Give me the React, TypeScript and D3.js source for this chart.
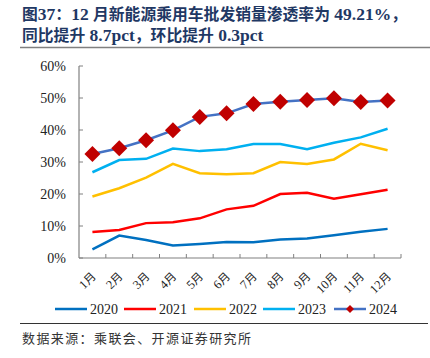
import React from "react";
import * as d3 from "d3";

const months = ["1月","2月","3月","4月","5月","6月","7月","8月","9月","10月","11月","12月"];
const s2020 = [2.7,7.0,5.6,3.9,4.4,5.0,4.9,5.8,6.1,7.1,8.2,9.1];
const s2021 = [8.1,8.75,10.9,11.2,12.4,15.2,16.3,20.0,20.4,18.5,19.9,21.3];
const s2022 = [19.2,21.8,25.1,29.4,26.5,26.2,26.5,30.0,29.4,30.8,35.7,33.7];
const s2023 = [26.8,30.6,31.0,34.2,33.4,34.0,35.6,35.6,34.0,36.0,37.7,40.4];
const s2024 = [32.5,34.3,36.8,39.9,44.1,45.2,48.1,48.8,49.4,49.9,48.75,49.21];
const yTicks = [0,10,20,30,40,50,60];
const seriesNames = ["2020","2021","2022","2023","2024"];
const seriesColors = ["#0070C0","#FF0000","#FFC000","#00B0F0","#4472C4"];

export default function App() {
  const W = 430, H = 358;
  const left = 79, right = 401, top = 66, bottom = 258;
  const x = d3.scaleBand<string>().domain(months).range([left, right]);
  const y = d3.scaleLinear().domain([0, 60]).range([bottom, top]);
  const line = d3.line<number>()
    .x((_, i) => (x(months[i]) as number) + x.bandwidth() / 2)
    .y(d => y(d));
  const all = [s2020, s2021, s2022, s2023, s2024];
  const serif = "'Liberation Serif', 'Times New Roman', serif";
  const cjk = "'Noto Sans CJK SC', sans-serif";
  const legendX = [55, 124, 194, 263, 334];
  const diamond = (cx: number, cy: number, r: number) =>
    `M${cx},${cy - r}L${cx + r},${cy}L${cx},${cy + r}L${cx - r},${cy}Z`;
  const S = (t: string) => <tspan fontFamily={serif} fontSize={17.5}>{t}</tspan>;
  return (
    <svg width={W} height={H} style={{ position: "absolute", left: 0, top: 0, background: "#fff" }}>
      <text x={22} y={20} fontFamily={cjk} fontWeight="bold" fontSize={15.8} fill="#1F3864">
        图{S("37")}：{S("12 ")}月新能源乘用车批发销量渗透率为{S(" 49.21%")}，
      </text>
      <text x={22} y={41} fontFamily={cjk} fontWeight="bold" fontSize={15.8} fill="#1F3864">
        同比提升{S(" 8.7pct")}，环比提升{S(" 0.3pct")}
      </text>
      <line x1={20} x2={430} y1={47.5} y2={47.5} stroke="#808080" strokeWidth={1.5} />
      {yTicks.map(t => (
        <g key={t}>
          <text x={66} y={y(t)} dy="0.35em" textAnchor="end" fontFamily={serif} fontSize={14} fill="#222">{t}%</text>
          <line x1={left} x2={left + 4} y1={y(t)} y2={y(t)} stroke="#808080" />
        </g>
      ))}
      <line x1={left} x2={left} y1={top} y2={bottom} stroke="#808080" strokeWidth={1.2} />
      <line x1={left} x2={right} y1={bottom} y2={bottom} stroke="#808080" strokeWidth={1.2} />
      {months.map(m => (
        <line key={"t" + m} x1={(x(m) as number) + x.bandwidth()} x2={(x(m) as number) + x.bandwidth()} y1={bottom} y2={bottom - 4} stroke="#808080" />
      ))}
      {months.map(m => {
        const cx = (x(m) as number) + x.bandwidth() / 2 - 2;
        return (
          <text key={m} transform={`translate(${cx},${271}) rotate(-45)`} textAnchor="end" dy="0.7em" fontFamily={serif} fontSize={12.5} fill="#222">
            {m.replace("月", "")}<tspan fontFamily={cjk} fontSize={11.5}>月</tspan>
          </text>
        );
      })}
      {all.map((s, k) => (
        <path key={k} d={line(s) || ""} fill="none" stroke={seriesColors[k]} strokeWidth={2.5} />
      ))}
      {s2024.map((v, i) => (
        <path key={"d" + i} d={diamond((x(months[i]) as number) + x.bandwidth() / 2, y(v), 8)} fill="#C00000" />
      ))}
      {seriesNames.map((n, k) => (
        <g key={n}>
          <line x1={legendX[k]} x2={legendX[k] + 32} y1={309} y2={309} stroke={seriesColors[k]} strokeWidth={2.5} />
          {k === 4 && <path d={diamond(legendX[k] + 16, 309, 4)} fill="#C00000" />}
          <text x={legendX[k] + 35} y={309} dy="0.35em" fontFamily={serif} fontSize={14} fill="#222">{n}</text>
        </g>
      ))}
      <line x1={20} x2={428} y1={323.5} y2={323.5} stroke="#333" strokeWidth={1} />
      <text x={22} y={343} fontFamily={cjk} fontSize={13} letterSpacing={1.4} fill="#333">数据来源：乘联会、开源证券研究所</text>
    </svg>
  );
}
